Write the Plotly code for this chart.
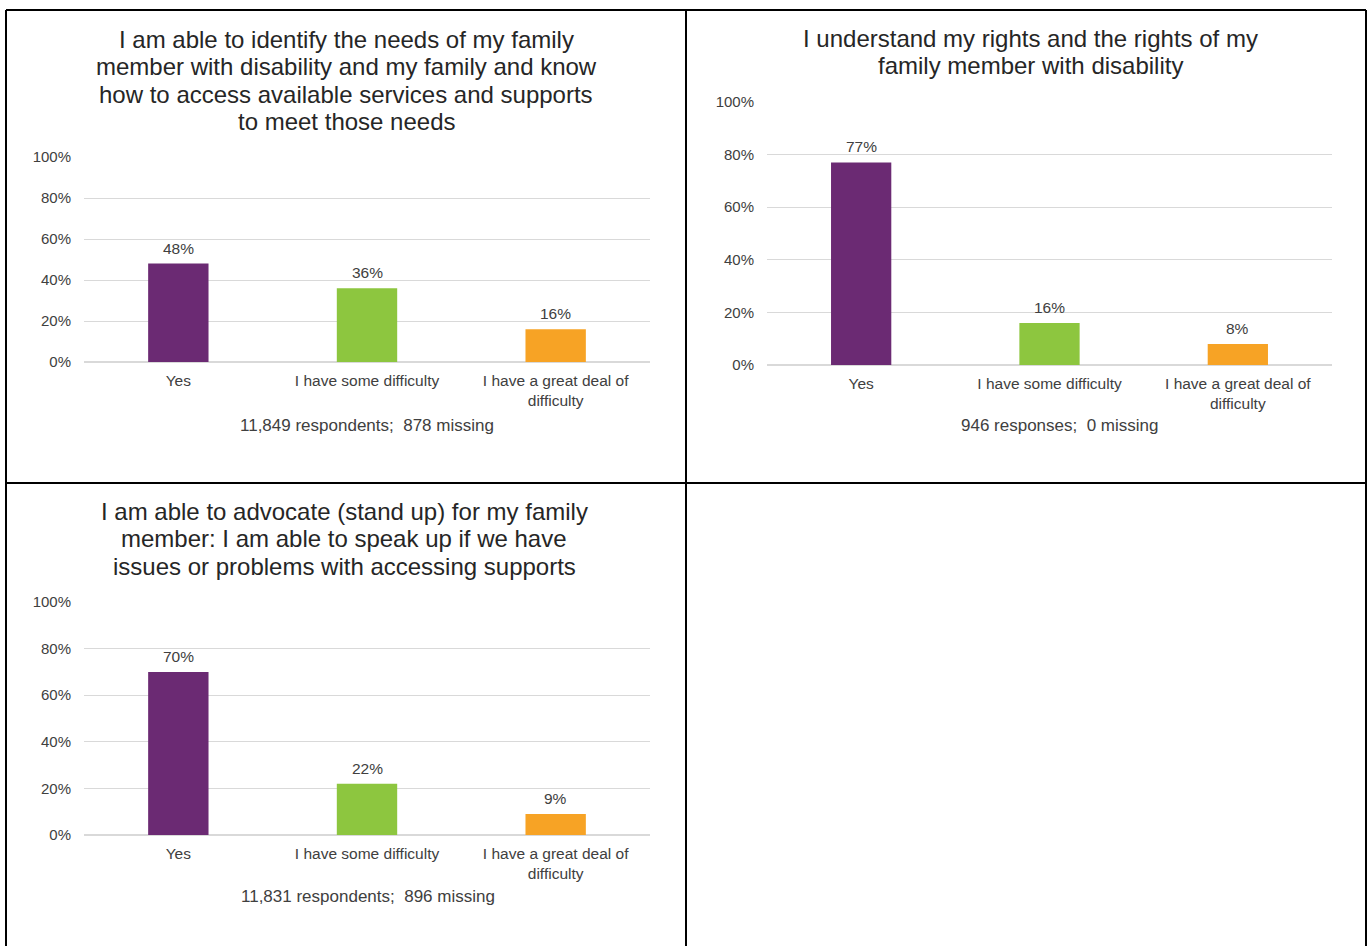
import plotly.graph_objects as go

W, H = 1370, 946

categories = ["Yes", "I have some difficulty", "I have a great deal of<br>difficulty"]
values_1 = [48, 36, 16]
values_2 = [77, 16, 8]
values_3 = [70, 22, 9]
value_labels_1 = ["48%", "36%", "16%"]
value_labels_2 = ["77%", "16%", "8%"]
value_labels_3 = ["70%", "22%", "9%"]
title_lines_1 = [
    "I am able to identify the needs of my family",
    "member with disability and my family and know",
    "how to access available services and supports",
    "to meet those needs",
]
title_lines_2 = [
    "I understand my rights and the rights of my",
    "family member with disability",
]
title_lines_3 = [
    "I am able to advocate (stand up) for my family",
    "member: I am able to speak up if we have",
    "issues or problems with accessing supports",
]
footnotes = [
    "11,849 respondents;  878 missing",
    "946 responses;  0 missing",
    "11,831 respondents;  896 missing",
]
tick_vals = [0, 20, 40, 60, 80, 100]
tick_text = ["0%", "20%", "40%", "60%", "80%", "100%"]
bar_colors = ["#6B2A73", "#8DC63F", "#F7A325"]

FONT = "Liberation Sans, Arial, sans-serif"
TXT = "#404040"

# pixel geometry of each panel: (x0, x1, y_top(100%), y_bottom(0%))
panels = [
    (84, 650, 157, 362),
    (767, 1332, 102, 365),
    (84, 650, 602, 835),
]
title_x = [346, 1030, 344]
title_y0 = [39, 38, 511]
TITLE_STEP = 27.6
foot_pos = [(367, 425), (1060, 425), (368, 896)]

def px_x(x):
    return x / W

def px_y(y):
    return 1 - y / H

fig = go.Figure()
all_values = [values_1, values_2, values_3]
all_labels = [value_labels_1, value_labels_2, value_labels_3]
all_titles = [title_lines_1, title_lines_2, title_lines_3]

annotations = []
for i, (vals, labs) in enumerate(zip(all_values, all_labels)):
    n = "" if i == 0 else str(i + 1)
    fig.add_trace(go.Bar(
        x=categories, y=vals,
        marker=dict(color=bar_colors, line=dict(width=0)),
        width=0.32,
        xaxis="x" + n, yaxis="y" + n,
        hoverinfo="skip", showlegend=False,
    ))
    for c, v, t in zip(categories, vals, labs):
        annotations.append(dict(
            x=c, y=v, xref="x" + n, yref="y" + n, text=t, showarrow=False,
            yanchor="bottom", yshift=5,
            font=dict(family=FONT, size=15.5, color=TXT),
        ))
    x0, x1, yt, yb = panels[i]
    fig.layout["xaxis" + n] = dict(
        domain=[px_x(x0), px_x(x1)], anchor="y" + n, automargin=False,
        showgrid=False, zeroline=False, showline=False, ticks="",
        tickfont=dict(family=FONT, size=15.5, color=TXT),
        ticklabelstandoff=7, fixedrange=True,
    )
    fig.layout["yaxis" + n] = dict(
        domain=[px_y(yb), px_y(yt)], anchor="x" + n, automargin=False,
        range=[0, 100], tickvals=tick_vals, ticktext=tick_text,
        showgrid=True, gridcolor="#D9D9D9", gridwidth=1,
        zeroline=True, zerolinecolor="#D9D9D9", zerolinewidth=1.5,
        showline=False, ticks="",
        tickfont=dict(family=FONT, size=15, color=TXT),
        ticklabelstandoff=12, fixedrange=True,
    )
    for k, line_txt in enumerate(all_titles[i]):
        annotations.append(dict(
            x=px_x(title_x[i]), y=px_y(title_y0[i] + k * TITLE_STEP),
            xref="paper", yref="paper", text=line_txt,
            showarrow=False, xanchor="center", yanchor="middle",
            font=dict(family=FONT, size=24, color="#262626"),
        ))
    fx, fy = foot_pos[i]
    annotations.append(dict(
        x=px_x(fx), y=px_y(fy), xref="paper", yref="paper", text=footnotes[i],
        showarrow=False, xanchor="center", yanchor="middle",
        font=dict(family=FONT, size=17, color=TXT),
    ))

# panel borders
shapes = []
line = dict(color="black", width=2)
border_lines = [
    (6, 10, 1366, 10),
    (6, 10, 6, 946),
    (1366, 10, 1366, 946),
    (686, 10, 686, 946),
    (6, 483, 1366, 483),
]
for xa, ya, xb, yb in border_lines:
    shapes.append(dict(type="line", xref="paper", yref="paper",
                       x0=px_x(xa), y0=px_y(ya), x1=px_x(xb), y1=px_y(yb), line=line))

fig.update_layout(
    width=W, height=H,
    margin=dict(l=0, r=0, t=0, b=0, pad=0, autoexpand=False),
    paper_bgcolor="white", plot_bgcolor="white",
    annotations=annotations, shapes=shapes,
    font=dict(family=FONT, color=TXT),
    showlegend=False,
)

fig.write_html(
    "out.html",
    config={"displayModeBar": False},
    post_script="document.body.style.margin='0px';document.body.style.overflow='hidden';",
)
